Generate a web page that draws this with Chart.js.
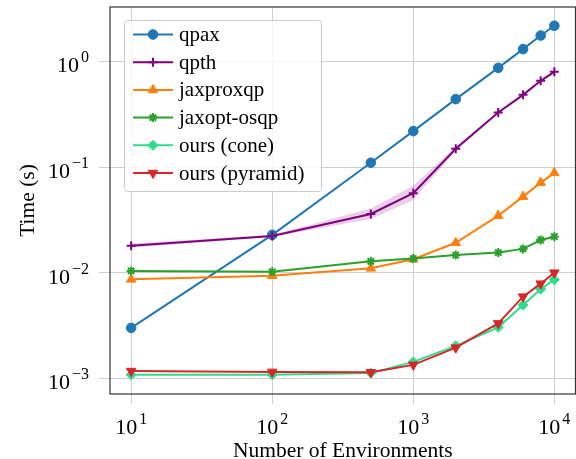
<!DOCTYPE html>
<html>
<head>
<meta charset="utf-8">
<script src="https://cdn.jsdelivr.net/npm/chart.js"></script>
<style>
  html, body { margin: 0; padding: 0; background: #fff; overflow: hidden; }
  #wrap { width: 576px; height: 459px; overflow: hidden; }
  #chart { display: block; }
</style>
</head>
<body>
<div id="wrap"><canvas id="chart" width="582" height="459"></canvas></div>
<script>
// values (seconds)
const envs = [10, 100, 500, 1000, 2000, 4000, 6000, 8000, 10000];
const qpax = [0.0030, 0.0228, 0.110, 0.219, 0.44, 0.87, 1.31, 1.76, 2.18];
const qpth = [0.0180, 0.0223, 0.036, 0.0566, 0.149, 0.329, 0.483, 0.656, 0.798];
const qpthLow = [0.0172, 0.0218, 0.0323, 0.0487, 0.143, 0.324, 0.477, 0.649, 0.790];
const qpthHigh = [0.0189, 0.0229, 0.0405, 0.0665, 0.156, 0.334, 0.489, 0.663, 0.806];
const jaxproxqp = [0.00865, 0.00937, 0.0110, 0.0134, 0.0192, 0.0347, 0.0525, 0.0713, 0.0881];
const jaxoptOsqp = [0.0104, 0.0102, 0.0128, 0.0136, 0.0147, 0.0155, 0.0168, 0.0204, 0.0219];
const oursCone = [0.00108, 0.00108, 0.00112, 0.00143, 0.00203, 0.00304, 0.00494, 0.00697, 0.00859];
const oursPyramid = [0.00117, 0.00115, 0.00114, 0.00134, 0.00195, 0.00331, 0.00593, 0.00787, 0.0100];

const xTicks = [10, 100, 1000, 10000];
const xTickExp = ['1', '2', '3', '4'];
const yTicks = [0.001, 0.01, 0.1, 1];
const yTickExp = ['\u22123', '\u22122', '\u22121', '0'];

const FONT = '"Liberation Serif", "Times New Roman", serif';

function pts(ys) {
    return envs.map((x, i) => ({ x: x, y: ys[i] }));
}

const series = [
    { label: 'qpax', data: qpax, color: '#1f77b4', style: 'circle', r: 4.8, pbw: 1 },
    { label: 'qpth', data: qpth, color: '#800080', style: 'cross', r: 4.5, pbw: 2 },
    { label: 'jaxproxqp', data: jaxproxqp, color: '#ff7f0e', style: 'triangle', r: 5.5, pbw: 1 },
    { label: 'jaxopt-osqp', data: jaxoptOsqp, color: '#2ca02c', style: 'star', r: 4.5, pbw: 2 },
    { label: 'ours (cone)', data: oursCone, color: '#2fdc8c', style: 'rectRot', r: 5, pbw: 1 },
    { label: 'ours (pyramid)', data: oursPyramid, color: '#d62728', style: 'triangle', r: 5.5, pbw: 1, rot: 180 }
];

const datasets = [];
// shaded spread for qpth
datasets.push({
    data: pts(qpthLow), borderWidth: 0, pointRadius: 0, fill: false,
    borderColor: 'rgba(0,0,0,0)', order: 20, isBand: true
});
datasets.push({
    data: pts(qpthHigh), borderWidth: 0, pointRadius: 0, fill: '-1',
    backgroundColor: 'rgba(128,0,128,0.18)', borderColor: 'rgba(0,0,0,0)', order: 20, isBand: true
});

series.forEach((s, i) => {
    datasets.push({
        label: s.label,
        data: pts(s.data),
        borderColor: s.color,
        backgroundColor: s.color,
        borderWidth: 2,
        pointStyle: s.style,
        pointRadius: s.r,
        pointRotation: s.rot || 0,
        pointBorderWidth: s.pbw,
        pointBackgroundColor: s.color,
        pointBorderColor: s.color,
        fill: false,
        tension: 0,
        order: series.length - i
    });
});

const paperPlugin = {
    id: 'paperPlugin',
    afterDraw(chart) {
        const ctx = chart.ctx;
        const area = chart.chartArea;
        const xs = chart.scales.x;
        const ys = chart.scales.y;
        ctx.save();

        // frame
        ctx.strokeStyle = '#333333';
        ctx.lineWidth = 1.2;
        ctx.strokeRect(area.left, area.top, area.right - area.left, area.bottom - area.top);

        ctx.fillStyle = '#000';
        ctx.textBaseline = 'alphabetic';

        // x tick labels
        xTicks.forEach((v, i) => {
            const px = xs.getPixelForValue(v);
            ctx.font = '22px ' + FONT;
            const wb = ctx.measureText('10').width;
            ctx.font = '16px ' + FONT;
            const we = ctx.measureText(xTickExp[i]).width;
            const x0 = px - (wb + we + 2) / 2;
            ctx.textAlign = 'left';
            ctx.font = '22px ' + FONT;
            ctx.fillText('10', x0, 434);
            ctx.font = '16px ' + FONT;
            ctx.fillText(xTickExp[i], x0 + wb + 2, 424);
        });

        // y tick labels
        yTicks.forEach((v, i) => {
            const py = ys.getPixelForValue(v);
            ctx.font = '16px ' + FONT;
            const we = ctx.measureText(yTickExp[i]).width;
            ctx.font = '22px ' + FONT;
            const wb = ctx.measureText('10').width;
            const right = 89;
            ctx.textAlign = 'left';
            ctx.fillText('10', right - we - 2 - wb, py + 11);
            ctx.font = '16px ' + FONT;
            ctx.fillText(yTickExp[i], right - we, py + 1);
        });

        // axis titles
        ctx.font = '21.5px ' + FONT;
        ctx.textAlign = 'center';
        ctx.fillText('Number of Environments', (area.left + area.right) / 2, 457);
        ctx.save();
        ctx.translate(34, (area.top + area.bottom) / 2);
        ctx.rotate(-Math.PI / 2);
        ctx.fillText('Time (s)', 0, 0);
        ctx.restore();

        // legend
        const lx = 124.5, ly = 20.5, lw = 197, lh = 171;
        ctx.beginPath();
        if (ctx.roundRect) ctx.roundRect(lx, ly, lw, lh, 3); else ctx.rect(lx, ly, lw, lh);
        ctx.fillStyle = 'rgba(255,255,255,0.8)';
        ctx.fill();
        ctx.strokeStyle = '#cccccc';
        ctx.lineWidth = 1;
        ctx.stroke();

        const items = chart.data.datasets.filter(d => !d.isBand);
        items.forEach((d, i) => {
            const cy = 34.5 + i * 27.7;
            ctx.strokeStyle = d.borderColor;
            ctx.lineWidth = 2;
            ctx.beginPath();
            ctx.moveTo(133, cy);
            ctx.lineTo(173, cy);
            ctx.stroke();
            ctx.fillStyle = d.pointBackgroundColor;
            ctx.strokeStyle = d.pointBorderColor;
            ctx.lineWidth = d.pointBorderWidth;
            if (Chart.helpers && Chart.helpers.drawPoint) {
                Chart.helpers.drawPoint(ctx, {
                    pointStyle: d.pointStyle,
                    radius: d.pointRadius,
                    rotation: d.pointRotation,
                    borderWidth: d.pointBorderWidth
                }, 153, cy);
            }
            ctx.fillStyle = '#000';
            ctx.font = '21px ' + FONT;
            ctx.textAlign = 'left';
            ctx.textBaseline = 'middle';
            ctx.fillText(d.label, 179, cy + 1);
        });

        ctx.restore();
    }
};

new Chart(document.getElementById('chart'), {
    type: 'line',
    data: { datasets: datasets },
    options: {
        responsive: false,
        animation: false,
        devicePixelRatio: 1,
        layout: { padding: { top: 7, right: 0, left: 0, bottom: 0 } },
        plugins: {
            legend: { display: false },
            tooltip: { enabled: false }
        },
        scales: {
            x: {
                type: 'logarithmic',
                min: Math.pow(10, 0.85),
                max: Math.pow(10, 4.15),
                afterBuildTicks: (scale) => { scale.ticks = xTicks.map(v => ({ value: v })); },
                afterFit: (scale) => { scale.height = 65; },
                ticks: { display: false },
                grid: { color: '#cfcfcf', lineWidth: 1, tickLength: 10, drawTicks: true },
                border: { display: false }
            },
            y: {
                type: 'logarithmic',
                min: 7.1e-4,
                max: 3.28,
                afterBuildTicks: (scale) => { scale.ticks = yTicks.map(v => ({ value: v })); },
                afterFit: (scale) => { scale.width = 110; },
                ticks: { display: false },
                grid: { color: '#cfcfcf', lineWidth: 1, tickLength: 11, drawTicks: true },
                border: { display: false }
            }
        }
    },
    plugins: [paperPlugin]
});
</script>
</body>
</html>
